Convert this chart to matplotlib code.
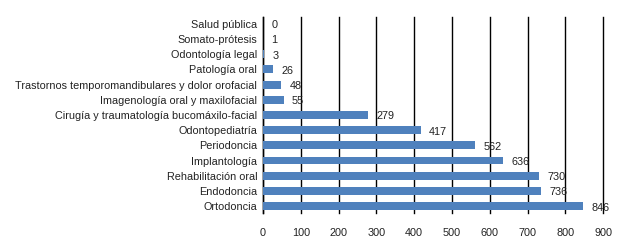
import numpy as np
import matplotlib.pyplot as plt

plt.rcParams['font.family'] = ['Liberation Sans', 'DejaVu Sans']

# datos (de arriba hacia abajo)
especialidades = [
    'Salud pública', 'Somato-prótesis', 'Odontología legal', 'Patología oral',
    'Trastornos temporomandibulares y dolor orofacial',
    'Imagenología oral y maxilofacial',
    'Cirugía y traumatología bucomáxilo-facial', 'Odontopediatría',
    'Periodoncia', 'Implantología', 'Rehabilitación oral', 'Endodoncia',
    'Ortodoncia',
]
valores = [0, 1, 3, 26, 48, 55, 279, 417, 562, 636, 730, 736, 846]
ticks_x = [0, 100, 200, 300, 400, 500, 600, 700, 800, 900]

fig = plt.figure(figsize=(6.29, 2.42), dpi=100)
ax = fig.add_axes([0.418, 0.12, 0.541, 0.81])

y = np.arange(len(especialidades))
ax.barh(y, valores, height=0.52, color='#4F81BD', zorder=3)

for yi, v in zip(y, valores):
    ax.annotate(str(v), xy=(v, yi), xytext=(6, -1), textcoords='offset points',
                va='center', ha='left', fontsize=7.8, color='#222222', zorder=4)

ax.set_yticks(y)
ax.set_yticklabels(especialidades, fontsize=7.8, color='#222222')
ax.set_ylim(len(especialidades) - 0.55, -0.45)

ax.set_xlim(0, 900)
ax.set_xticks(ticks_x)
ax.set_xticklabels([str(t) for t in ticks_x], fontsize=7.8, color='#222222')
ax.tick_params(axis='both', length=0)
ax.tick_params(axis='x', pad=11)
ax.tick_params(axis='y', pad=4)

ax.grid(axis='x', color='black', linewidth=1, zorder=0)
for linea in ax.get_xgridlines():
    linea.set_clip_on(False)
for s in ['top', 'right', 'bottom']:
    ax.spines[s].set_visible(False)
ax.spines['left'].set_color('black')
ax.spines['left'].set_linewidth(1)

fig.savefig('out.png', dpi=100)
